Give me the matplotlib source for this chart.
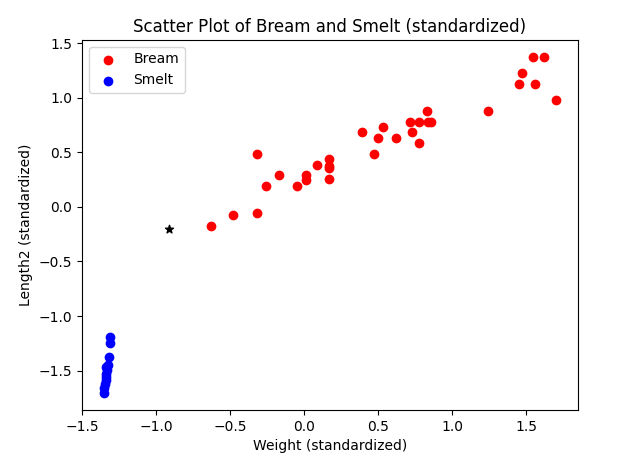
import matplotlib
matplotlib.use("Agg")
import matplotlib.pyplot as plt

# standardized values
bream_weight = [-0.63, -0.48, -0.32, -0.32, -0.255, -0.17, -0.045, 0.016, 0.016, 0.09,
                0.167, 0.167, 0.167, 0.167, 0.39, 0.475, 0.50, 0.535, 0.62, 0.716,
                0.73, 0.78, 0.78, 0.83, 0.84, 0.86, 1.24, 1.455, 1.47, 1.55,
                1.56, 1.62, 1.70]
bream_length = [-0.17, -0.075, -0.057, 0.485, 0.19, 0.29, 0.19, 0.29, 0.25, 0.385,
                0.44, 0.38, 0.36, 0.255, 0.685, 0.485, 0.63, 0.73, 0.63, 0.78,
                0.685, 0.78, 0.585, 0.88, 0.78, 0.78, 0.88, 1.125, 1.227, 1.376,
                1.125, 1.376, 0.98]

smelt_weight = [-1.31, -1.31, -1.32, -1.325, -1.33, -1.335, -1.34, -1.34, -1.345, -1.35]
smelt_length = [-1.19, -1.25, -1.38, -1.45, -1.495, -1.53, -1.557, -1.59, -1.62, -1.66]
smelt_weight += [-1.35, -1.335]
smelt_length += [-1.71, -1.47]

new_weight = [-0.91]
new_length = [-0.20]

fig = plt.figure(figsize=(6.18, 4.7), dpi=100)
ax = fig.add_axes([0.1327, 0.1277, 0.8026, 0.7873])

ax.scatter(bream_weight, bream_length, c='red', label='Bream')
ax.scatter(smelt_weight, smelt_length, c='blue', label='Smelt')
ax.scatter(new_weight, new_length, marker='*', c='black')

ax.set_xlim(-1.5, 1.851)
ax.set_ylim(-1.862, 1.532)
ax.set_xlabel("Weight (standardized)")
ax.set_ylabel("Length2 (standardized)")
ax.set_title("Scatter Plot of Bream and Smelt (standardized)")
ax.legend(loc='upper left')

fig.savefig("out.png", dpi=100)
